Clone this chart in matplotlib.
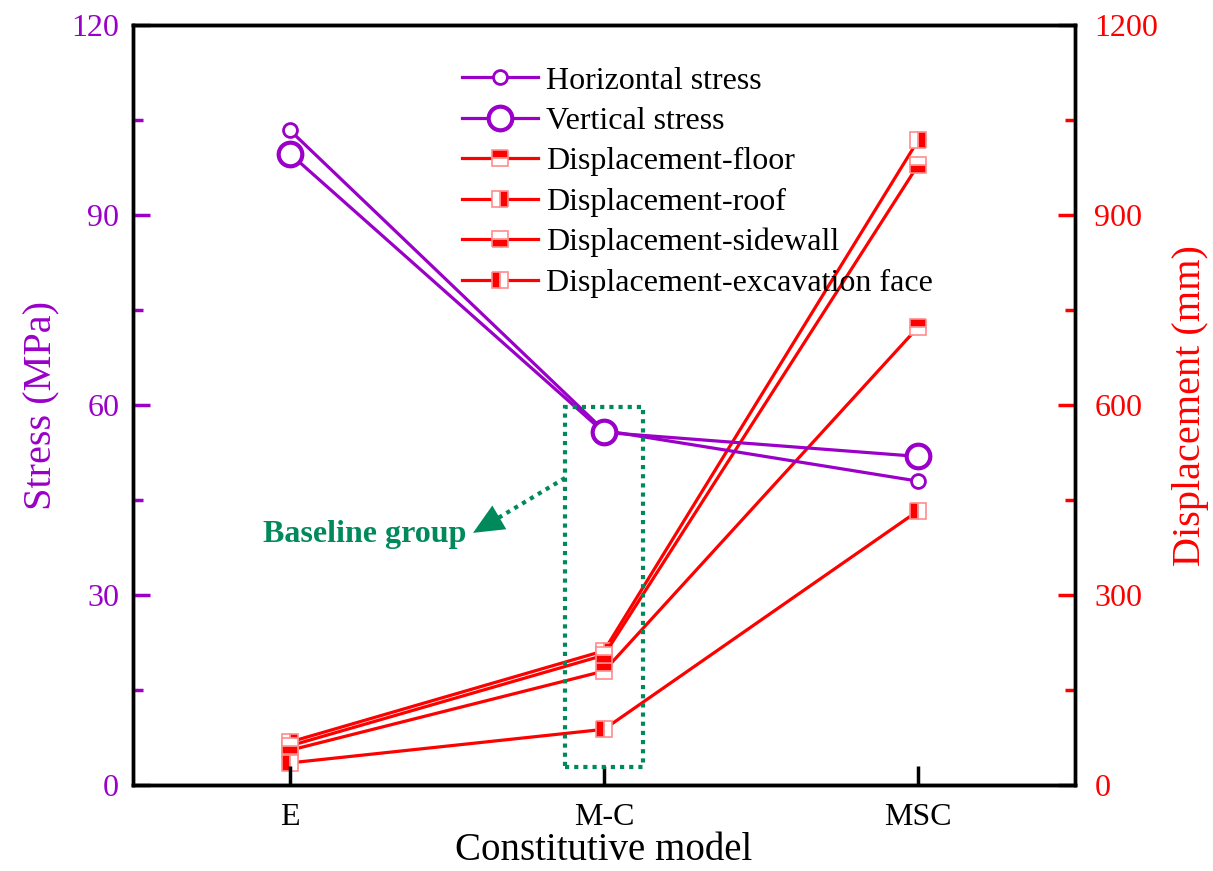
import numpy as np
import matplotlib
matplotlib.use("Agg")
import matplotlib.pyplot as plt
from matplotlib.ticker import MultipleLocator
from matplotlib.patches import Rectangle

# ── Data ──────────────────────────────────────────────────────────────────────
models = ["E", "M-C", "MSC"]

horizontal_stress = [103.4, 56.0, 48.0]   # MPa
vertical_stress   = [99.7, 55.7, 51.9]    # MPa

disp_floor     = [55, 180, 723]    # mm
disp_roof      = [68, 212, 1018]
disp_sidewall  = [62, 205, 979]
disp_excavface = [35, 88, 433]

PURPLE = "#9a00c8"
RED    = "#ff0000"
EDGE   = "#ff8c8c"
GREEN  = "#008a5c"

plt.rcParams["font.family"] = ["Liberation Serif", "DejaVu Serif"]
plt.rcParams["mathtext.fontset"] = "stix"

fig = plt.figure(figsize=(12.13, 8.71), dpi=100)
ax = fig.add_axes([0.1097, 0.0987, 0.7765, 0.8723])
ax2 = ax.twinx()

x = np.arange(len(models))

# ── Stress (left axis) ────────────────────────────────────────────────────────
h1, = ax.plot(x, horizontal_stress, "-o", color=PURPLE, lw=2.3, ms=10,
              mfc="white", mec=PURPLE, mew=2, label="Horizontal stress", zorder=4)
h2, = ax.plot(x, vertical_stress, "-o", color=PURPLE, lw=2.3, ms=17,
              mfc="white", mec=PURPLE, mew=3, label="Vertical stress", zorder=4)

# ── Displacement (right axis) ─────────────────────────────────────────────────
disp_series = [
    (disp_floor,     "top",    "Displacement-floor"),
    (disp_roof,      "right",  "Displacement-roof"),
    (disp_sidewall,  "bottom", "Displacement-sidewall"),
    (disp_excavface, "left",   "Displacement-excavation face"),
]
dh = []
for vals, fs, lab in disp_series:
    l, = ax2.plot(x, vals, "-s", color=RED, lw=2.3, ms=11, fillstyle=fs,
                  mfc=RED, mfcalt="white", mec=EDGE, mew=1.2, label=lab)
    dh.append(l)

# ── Axes limits / ticks ───────────────────────────────────────────────────────
ax.set_xlim(-0.5, 2.5)
ax.set_ylim(0, 120)
ax2.set_ylim(0, 1200)
ax.set_xticks(x)
ax.set_xticklabels(models)
ax.yaxis.set_major_locator(MultipleLocator(30))
ax.yaxis.set_minor_locator(MultipleLocator(15))
ax2.yaxis.set_major_locator(MultipleLocator(300))
ax2.yaxis.set_minor_locator(MultipleLocator(150))

ax.tick_params(axis="x", direction="in", length=14, width=2.5, labelsize=23,
               pad=13, colors="black")
ax.tick_params(axis="y", which="major", direction="in", length=12, width=2.5,
               labelsize=23, colors=PURPLE, pad=10)
ax.tick_params(axis="y", which="minor", direction="in", length=7, width=2.5,
               colors=PURPLE)
ax2.tick_params(axis="y", which="major", direction="in", length=12, width=2.5,
                labelsize=23, colors=RED, pad=14)
ax2.tick_params(axis="y", which="minor", direction="in", length=7, width=2.5,
                colors=RED)

for a in (ax, ax2):
    for s in a.spines.values():
        s.set_linewidth(2.5)
ax2.spines["left"].set_color(PURPLE)
ax2.spines["right"].set_color(RED)
ax2.spines["top"].set_color("black")
ax2.spines["bottom"].set_color("black")

ax.set_xlabel("Constitutive model", fontsize=28, labelpad=0)
ax.set_ylabel("Stress (MPa)", fontsize=29, color=PURPLE, labelpad=8)
ax2.set_ylabel("Displacement (mm)", fontsize=29, color=RED, labelpad=10)

# ── Baseline group annotation ─────────────────────────────────────────────────
ax.add_patch(Rectangle((0.876, 2.8), 0.248, 56.9, fill=False, ec=GREEN,
                       lw=3, ls=(0, (1, 1.2)), zorder=5))
arrow_tail = (0.876, 48.5)
arrow_tip = (0.575, 39.6)
ax.plot([arrow_tail[0], 0.63], [arrow_tail[1], 41.2], color=GREEN, lw=3,
        ls=(0, (1, 1.2)), zorder=5)
ax.annotate("", xy=arrow_tip, xytext=(0.64, 41.5),
            arrowprops=dict(arrowstyle="-|>,head_length=1.0,head_width=0.45",
                            color=GREEN, lw=0, mutation_scale=22), zorder=5)
ax.text(-0.086, 39.5, "Baseline group", color=GREEN, fontsize=23,
        fontweight="bold", ha="left", va="center")

ax.legend(handles=[h1, h2] + dh, loc="upper left",
          bbox_to_anchor=(0.349, 0.946), frameon=False, fontsize=23,
          borderpad=0, borderaxespad=0,
          handlelength=2.4, handletextpad=0.25, labelspacing=0.345)

ax2.set_zorder(ax.get_zorder() - 1)
ax.patch.set_visible(False)

fig.savefig("out.png", dpi=100)
